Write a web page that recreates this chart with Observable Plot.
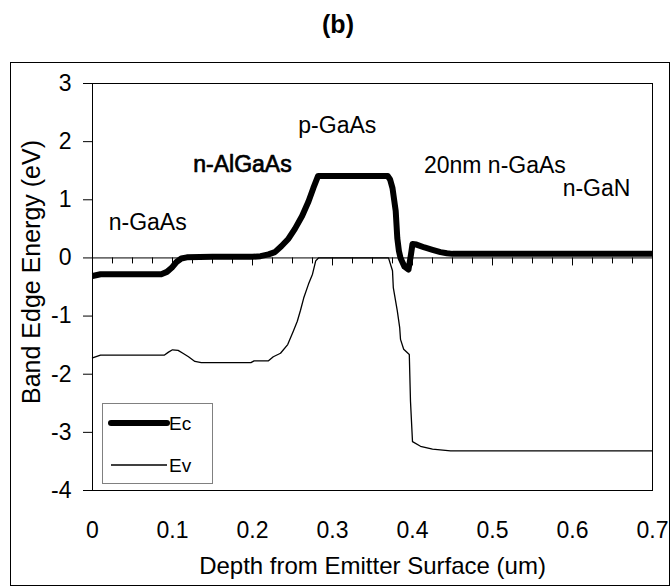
<!DOCTYPE html>
<html>
<head>
<meta charset="utf-8">
<script src="https://cdn.jsdelivr.net/npm/d3@7"></script>
<script src="https://cdn.jsdelivr.net/npm/@observablehq/plot@0.6"></script>
<style>
  body { margin: 0; background: #fff; font-family: "Liberation Sans", Arial, sans-serif; }
  #wrap { position: relative; width: 670px; height: 587px; overflow: hidden; }
  #title { position: absolute; left: 0; top: 0; width: 676px; height: 48px; line-height: 48px;
           text-align: center; font-weight: bold; font-size: 25px; color: #000; }
  #chart { padding-top: 40px; }
  #legend { position: absolute; left: 102px; top: 403px; }
</style>
</head>
<body>
<div id="wrap">
  <div id="title">(b)</div>
  <div id="chart"></div>
  <div id="legend"></div>
</div>
<script>
// Conduction band edge Ec (eV) vs depth (um)
const ecDepth = [0, 0.01, 0.03, 0.06, 0.086, 0.093, 0.099, 0.105, 0.111, 0.118, 0.15, 0.2, 0.21, 0.22, 0.228, 0.236, 0.245, 0.253, 0.262, 0.27, 0.276, 0.282,
  0.369, 0.372, 0.375, 0.379, 0.381, 0.383, 0.385, 0.39, 0.395, 0.398, 0.4, 0.405, 0.415, 0.425, 0.435, 0.443, 0.45, 0.5, 0.6, 0.7];
const ecEnergy = [-0.31, -0.28, -0.28, -0.28, -0.28, -0.24, -0.17, -0.07, -0.01, 0.01, 0.02, 0.02, 0.03, 0.06, 0.1, 0.2, 0.33, 0.5, 0.72, 0.97, 1.2, 1.41,
  1.41, 1.35, 1.2, 0.81, 0.34, 0.12, 0.0, -0.15, -0.2, 0.05, 0.24, 0.23, 0.18, 0.14, 0.1, 0.08, 0.07, 0.07, 0.07, 0.07];

// Valence band edge Ev (eV) vs depth (um)
const evDepth = [0, 0.01, 0.09, 0.095, 0.1, 0.107, 0.113, 0.12, 0.128, 0.136, 0.15, 0.198, 0.202, 0.22, 0.226, 0.235, 0.244, 0.251, 0.256, 0.26, 0.264, 0.27, 0.275, 0.279, 0.2825,
  0.37, 0.375, 0.376, 0.381, 0.384, 0.385, 0.389, 0.396, 0.3975, 0.4, 0.41, 0.425, 0.4475, 0.5, 0.6, 0.7];
const evEnergy = [-1.72, -1.67, -1.67, -1.62, -1.58, -1.59, -1.64, -1.7, -1.78, -1.8, -1.8, -1.8, -1.77, -1.77, -1.7, -1.64, -1.49, -1.26, -1.09, -0.9, -0.69, -0.45, -0.28, -0.05, 0,
  0, -0.22, -0.51, -0.91, -1.2, -1.4, -1.57, -1.66, -2.47, -3.16, -3.24, -3.29, -3.32, -3.32, -3.32, -3.32];

const xTicks = [0, 0.1, 0.2, 0.3, 0.4, 0.5, 0.6, 0.7];
const xMinorTicks = [0.025, 0.05, 0.075, 0.125, 0.15, 0.175, 0.225, 0.25, 0.275, 0.325, 0.35, 0.375,
  0.425, 0.45, 0.475, 0.525, 0.55, 0.575, 0.625, 0.65, 0.675];
const yTicks = [-4, -3, -2, -1, 0, 1, 2, 3];

const regionNames = ["n-GaAs", "n-AlGaAs", "p-GaAs", "20nm n-GaAs", "n-GaN"];
const regionX = [0.069, 0.1875, 0.306, 0.503, 0.63];
const regionY = [0.61, 1.6, 2.28, 1.59, 1.19];
const regionBold = [false, true, false, false, false];

const seriesNames = ["Ec", "Ev"];
const seriesWidths = [6, 1.3];

const xTitle = "Depth from Emitter Surface (um)";
const yTitle = "Band Edge Energy (eV)";

const ec = ecDepth.map((x, i) => ({x, y: ecEnergy[i]}));
const ev = evDepth.map((x, i) => ({x, y: evEnergy[i]}));
const regions = regionNames.map((t, i) => ({t, x: regionX[i], y: regionY[i], b: regionBold[i]}));

const chart = Plot.plot({
  width: 670,
  height: 547,
  marginTop: 43,
  marginBottom: 97,
  marginLeft: 92,
  marginRight: 18,
  style: {fontFamily: "'Liberation Sans', Arial, sans-serif", fontSize: "23px", color: "#000", background: "transparent", overflow: "visible"},
  x: {domain: [0, 0.7]},
  y: {domain: [-4, 3]},
  marks: [
    Plot.frame({insetLeft: -82, insetTop: -21, insetRight: -17, insetBottom: -95, stroke: "#000"}),
    Plot.frame({stroke: "#000"}),
    Plot.axisY({ticks: yTicks, tickSize: 9, tickPadding: 12, tickFormat: d => String(d), label: null, fontSize: 23}),
    Plot.axisX({ticks: xTicks, tickSize: 0, tickPadding: 31, tickFormat: d => String(d), label: null, fontSize: 23}),
    Plot.ruleY([0], {stroke: "#000", strokeWidth: 1}),
    Plot.ruleX(xMinorTicks, {x: d => d, y1: 0, y2: 0, insetBottom: -6, stroke: "#000"}),
    Plot.ruleX(xTicks, {x: d => d, y1: 0, y2: 0, insetBottom: -8, stroke: "#000"}),
    Plot.line(ev, {x: "x", y: "y", stroke: "#000", strokeWidth: seriesWidths[1]}),
    Plot.line(ec, {x: "x", y: "y", stroke: "#000", strokeWidth: seriesWidths[0], strokeLinejoin: "round", strokeLinecap: "butt"}),
    Plot.text(regions.filter(d => !d.b), {x: "x", y: "y", text: "t", fontSize: 23, fill: "#000"}),
    Plot.text(regions.filter(d => d.b), {x: "x", y: "y", text: "t", fontSize: 23, fill: "#000", stroke: "#000", strokeWidth: 0.7}),
    Plot.text([yTitle], {frameAnchor: "left", textAnchor: "middle", lineAnchor: "middle", rotate: -90, dx: -61, dy: -15, fontSize: 25, fill: "#000"}),
    Plot.text([xTitle], {frameAnchor: "bottom", textAnchor: "middle", lineAnchor: "middle", dy: 76, fontSize: 24, fill: "#000"})
  ]
});
document.getElementById("chart").appendChild(chart);

// Legend box
const lg = d3.select("#legend").append("svg").attr("width", 112).attr("height", 82);
lg.append("rect").attr("x", 0.5).attr("y", 0.5).attr("width", 110).attr("height", 80)
  .attr("fill", "#fff").attr("stroke", "#808080");
seriesNames.forEach((name, i) => {
  const cy = 20 + i * 42;
  lg.append("line").attr("x1", 9).attr("x2", 65).attr("y1", cy).attr("y2", cy)
    .attr("stroke", "#000").attr("stroke-width", seriesWidths[i]).attr("stroke-linecap", i === 0 ? "round" : "butt");
  lg.append("text").attr("x", 67).attr("y", cy).attr("dy", "0.35em")
    .attr("font-family", "'Liberation Sans', Arial, sans-serif").attr("font-size", 19).text(name);
});
</script>
</body>
</html>
